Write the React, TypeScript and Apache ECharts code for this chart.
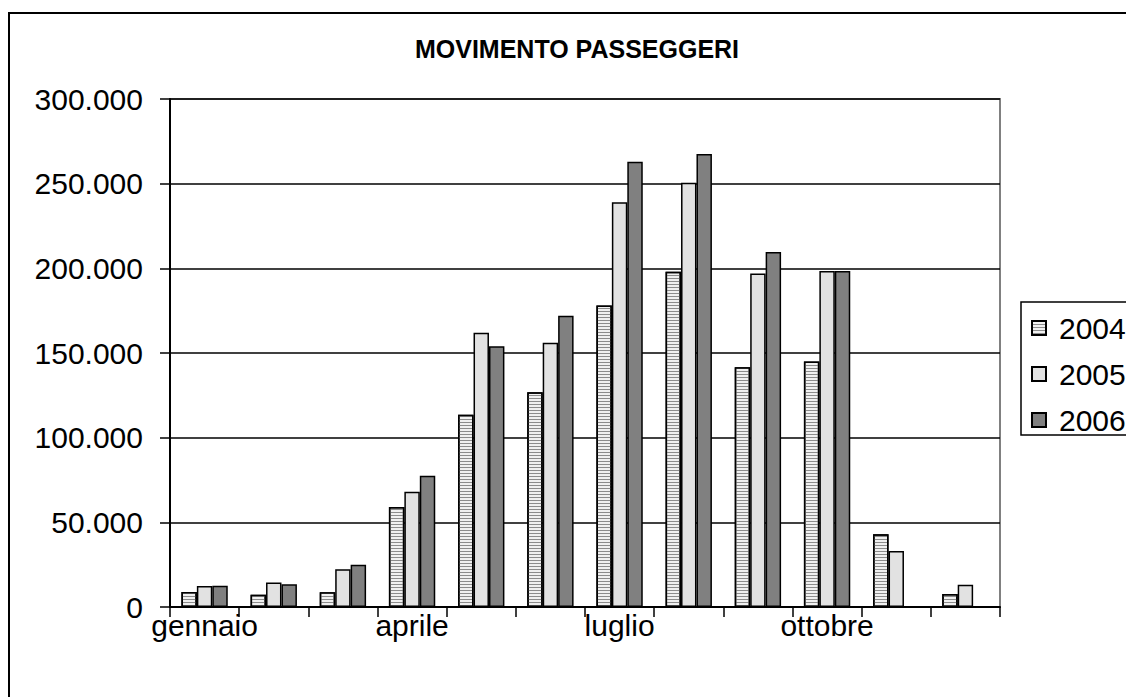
import React, { useEffect, useRef } from "react";
import * as echarts from "echarts";

const months = ["gennaio", "febbraio", "marzo", "aprile", "maggio", "giugno", "luglio", "agosto", "settembre", "ottobre", "novembre", "dicembre"];
const seriesNames = ["2004", "2005", "2006"];
const values2004 = [8900, 7300, 8700, 59000, 113600, 126800, 178000, 198000, 141600, 145000, 43000, 7700];
const values2005 = [12400, 14400, 22300, 68000, 162000, 156000, 239000, 250500, 197000, 198400, 33000, 13200];
const values2006 = [12600, 13400, 24900, 77500, 154000, 172000, 263000, 267500, 209600, 198400, null, null];
const yTicks = { min: 0, max: 300000, interval: 50000 };
const title = "MOVIMENTO PASSEGGERI";

const FONT = "'Liberation Sans', Arial, sans-serif";

function fmt(v: number): string {
  if (v === 0) return "0";
  const s = String(Math.round(v));
  return s.replace(/\B(?=(\d{3})+(?!\d))/g, ".");
}

export default function App() {
  const ref = useRef<HTMLDivElement>(null);
  useEffect(() => {
    if (!ref.current) return;
    const chart = echarts.init(ref.current, null, { renderer: "svg" });
    const border = { borderColor: "#000", borderWidth: 1.5 };
    chart.setOption({
      animation: false,
      backgroundColor: "#fff",
      textStyle: { fontFamily: FONT },
      graphic: [
        {
          type: "rect",
          shape: { x: 1, y: 5, width: 3000, height: 3000 },
          style: { fill: "none", stroke: "#000", lineWidth: 2 },
          silent: true,
          z: 100,
        },
        {
          type: "text",
          x: 569,
          y: 41,
          style: {
            text: title,
            fontFamily: FONT,
            fontWeight: "bold",
            fontSize: 25,
            fill: "#000",
            align: "center",
            verticalAlign: "middle",
          },
        },
      ],
      legend: {
        orient: "vertical",
        left: 1013,
        top: 294,
        data: seriesNames,
        icon: "rect",
        itemWidth: 14,
        itemHeight: 14,
        itemGap: 16,
        padding: [11, 40, 0, 10],
        borderColor: "#000",
        borderWidth: 1.5,
        textStyle: { fontFamily: FONT, fontSize: 30, color: "#000", padding: [0, 0, 0, 8] },
      },
      grid: {
        left: 162,
        right: 134,
        top: 91,
        bottom: 90,
        show: true,
        borderColor: "#808080",
        borderWidth: 2,
        backgroundColor: "transparent",
      },
      xAxis: {
        type: "category",
        data: months,
        boundaryGap: true,
        axisLine: { lineStyle: { color: "#000", width: 2 } },
        axisTick: { show: true, interval: 0, length: 10, lineStyle: { color: "#000", width: 1.5 } },
        axisLabel: { interval: 2, fontSize: 30, color: "#000", fontFamily: FONT, margin: 3 },
        splitLine: { show: false },
      },
      yAxis: {
        type: "value",
        min: yTicks.min,
        max: yTicks.max,
        interval: yTicks.interval,
        axisLine: { show: true, lineStyle: { color: "#000", width: 2 } },
        axisTick: { show: true, length: 10, lineStyle: { color: "#000", width: 1.5 } },
        axisLabel: { fontSize: 30, color: "#000", fontFamily: FONT, margin: 27, formatter: (v: number) => fmt(v) },
        splitLine: { show: true, lineStyle: { color: "#000", width: 1.5 } },
      },
      series: [
        {
          name: seriesNames[0],
          type: "bar",
          data: values2004,
          barGap: "0%",
          barCategoryGap: "33%",
          itemStyle: {
            color: "#f0f0f0",
            ...border,
            decal: {
              symbol: "rect",
              symbolSize: 1,
              symbolKeepAspect: false,
              dashArrayX: [1, 0],
              dashArrayY: [1, 2],
              color: "#8c8c8c",
            },
          },
        },
        {
          name: seriesNames[1],
          type: "bar",
          data: values2005,
          barGap: "0%",
          barCategoryGap: "33%",
          itemStyle: {
            color: "#e2e2e2",
            ...border,
          },
        },
        {
          name: seriesNames[2],
          type: "bar",
          data: values2006,
          barGap: "0%",
          barCategoryGap: "33%",
          itemStyle: { color: "#808080", ...border },
        },
      ],
    });
    return () => chart.dispose();
  }, []);
  return <div ref={ref} style={{ width: 1126, height: 689, overflow: "hidden" }} />;
}
